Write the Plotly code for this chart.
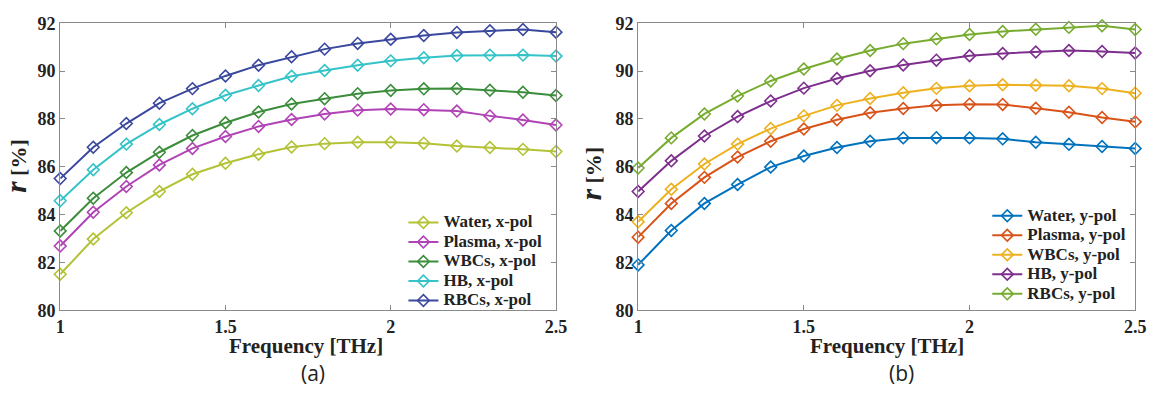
import plotly.graph_objects as go

freq = [1.0, 1.1, 1.2, 1.3, 1.4, 1.5, 1.6, 1.7, 1.8, 1.9, 2.0, 2.1, 2.2, 2.3, 2.4, 2.5]

# Panel (a): x-pol
water_x = [81.51, 82.98, 84.08, 84.97, 85.69, 86.15, 86.53, 86.83, 86.97, 87.03, 87.03, 86.99, 86.87, 86.81, 86.73, 86.64]
plasma_x = [82.69, 84.10, 85.18, 86.08, 86.77, 87.27, 87.69, 87.98, 88.21, 88.37, 88.42, 88.39, 88.33, 88.13, 87.96, 87.75]
wbcs_x = [83.32, 84.69, 85.76, 86.61, 87.31, 87.84, 88.29, 88.63, 88.85, 89.06, 89.19, 89.26, 89.27, 89.20, 89.12, 88.98]
hb_x = [84.58, 85.88, 86.95, 87.77, 88.43, 88.99, 89.40, 89.79, 90.03, 90.25, 90.43, 90.56, 90.65, 90.67, 90.67, 90.63]
rbcs_x = [85.51, 86.82, 87.81, 88.66, 89.27, 89.80, 90.25, 90.60, 90.92, 91.16, 91.33, 91.49, 91.62, 91.69, 91.74, 91.63]

# Panel (b): y-pol
water_y = [81.90, 83.34, 84.47, 85.26, 85.99, 86.45, 86.81, 87.07, 87.21, 87.22, 87.21, 87.17, 87.03, 86.94, 86.85, 86.77]
plasma_y = [83.06, 84.47, 85.56, 86.41, 87.07, 87.58, 87.97, 88.26, 88.44, 88.57, 88.62, 88.61, 88.45, 88.28, 88.06, 87.88]
wbcs_y = [83.70, 85.06, 86.12, 86.95, 87.60, 88.13, 88.57, 88.86, 89.10, 89.28, 89.39, 89.43, 89.41, 89.39, 89.27, 89.08]
hb_y = [84.97, 86.25, 87.29, 88.10, 88.75, 89.29, 89.69, 90.02, 90.26, 90.46, 90.64, 90.74, 90.80, 90.86, 90.82, 90.76]
rbcs_y = [85.95, 87.21, 88.21, 88.96, 89.59, 90.09, 90.51, 90.86, 91.15, 91.35, 91.53, 91.66, 91.75, 91.83, 91.90, 91.74]

names_x = ["Water, x-pol", "Plasma, x-pol", "WBCs, x-pol", "HB, x-pol", "RBCs, x-pol"]
names_y = ["Water, y-pol", "Plasma, y-pol", "WBCs, y-pol", "HB, y-pol", "RBCs, y-pol"]
colors_x = ["#b3c236", "#b043b5", "#3b8d3b", "#33c3c8", "#3a489e"]
colors_y = ["#0072BD", "#D95319", "#EDB120", "#7E2F8E", "#77AC30"]

series_x = [water_x, plasma_x, wbcs_x, hb_x, rbcs_x]
series_y = [water_y, plasma_y, wbcs_y, hb_y, rbcs_y]

xvals = [1, 1.5, 2, 2.5]
xtext = ["1", "1.5", "2", "2.5"]
yvals = [80, 82, 84, 86, 88, 90, 92]

serif = "Liberation Serif"
txtcol = "#222222"


def legname(n):
    return "<span style='font-size:17px'><b>" + n + "</b></span>"


fig = go.Figure()
for name, col, vals in zip(names_x, colors_x, series_x):
    fig.add_trace(go.Scatter(
        x=freq, y=vals, name=legname(name), mode="lines+markers",
        line=dict(color=col, width=2),
        marker=dict(symbol="diamond-open", size=9, color=col, line=dict(width=1.6)),
        xaxis="x", yaxis="y", legend="legend", cliponaxis=False))
for name, col, vals in zip(names_y, colors_y, series_y):
    fig.add_trace(go.Scatter(
        x=freq, y=vals, name=legname(name), mode="lines+markers",
        line=dict(color=col, width=2),
        marker=dict(symbol="diamond-open", size=9, color=col, line=dict(width=1.6)),
        xaxis="x2", yaxis="y2", legend="legend2", cliponaxis=False))

axis_common = dict(
    showline=True, linecolor="#8a8a8a", linewidth=1.3, mirror="ticks",
    ticks="inside", ticklen=5, tickcolor="#8a8a8a", showgrid=False, zeroline=False,
    tickfont=dict(family=serif, size=18, color=txtcol, weight="bold"),
)

ydom = [1 - 316 / 404, 1 - 14 / 404]
legfont = dict(family=serif, size=12.7, color=txtcol, weight="bold")

fig.update_layout(
    width=1161, height=404,
    margin=dict(l=0, r=0, t=0, b=0),
    paper_bgcolor="white", plot_bgcolor="white",
    xaxis=dict(domain=[56 / 1161, 558.7 / 1161], range=[1, 2.5], tickvals=xvals, ticktext=xtext,
               anchor="y", **axis_common),
    yaxis=dict(domain=ydom, range=[80, 92], tickvals=yvals, anchor="x", **axis_common),
    xaxis2=dict(domain=[642 / 1161, 1146 / 1161], range=[1, 2.5], tickvals=xvals, ticktext=xtext,
                anchor="y2", **axis_common),
    yaxis2=dict(domain=ydom, range=[80, 92], tickvals=yvals, anchor="x2", **axis_common),
    legend=dict(x=404 / 1161, y=1 - 208 / 404, xanchor="left", yanchor="top",
                bgcolor="rgba(255,255,255,0)", font=legfont, itemwidth=30, tracegroupgap=0),
    legend2=dict(x=996 / 1161, y=1 - 201 / 404, xanchor="left", yanchor="top",
                 bgcolor="rgba(255,255,255,0)", font=legfont, itemwidth=30, tracegroupgap=0),
    showlegend=True,
)

ytitle = "<span style='font-size:29px'><b><i>r</i></b></span><b> [%]</b>"
annotations = [
    dict(text="<b>Frequency [THz]</b>", x=305 / 1161, y=1 - 354 / 404),
    dict(text="<b>Frequency [THz]</b>", x=894 / 1161, y=1 - 354 / 404),
    dict(text=ytitle, x=11 / 1161, y=1 - 164 / 404, textangle=-90, font=dict(family=serif, size=22, color=txtcol)),
    dict(text=ytitle, x=595 / 1161, y=1 - 172 / 404, textangle=-90, font=dict(family=serif, size=22, color=txtcol)),
    dict(text="(a)", x=312 / 1161, y=1 - 382 / 404, font=dict(family="Open Sans", size=21, color=txtcol)),
    dict(text="(b)", x=909 / 1161, y=1 - 382 / 404, font=dict(family="Open Sans", size=21, color=txtcol)),
]
for a in annotations:
    a.setdefault("font", dict(family=serif, size=21, color=txtcol))
    a.update(xref="paper", yref="paper", showarrow=False, xanchor="center", yanchor="middle")
fig.update_layout(annotations=annotations)

fig.write_html("out.html")
